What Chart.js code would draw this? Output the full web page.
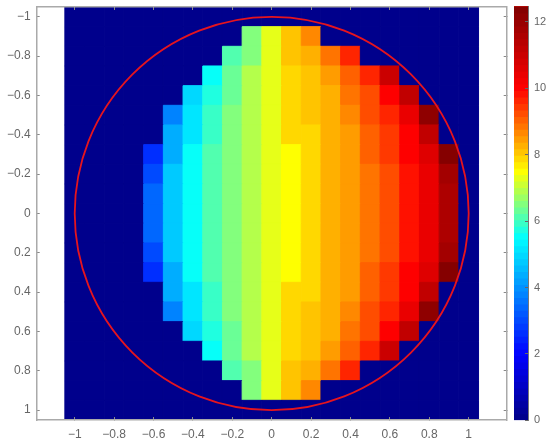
<!DOCTYPE html>
<html>
<head>
<meta charset="utf-8">
<title>Heatmap</title>
<script src="https://cdn.jsdelivr.net/npm/chart.js@4"></script>
<style>
  body { margin: 0; background: #fff; }
  canvas { position: absolute; top: 0; }
</style>
</head>
<body>
<canvas id="mapChart" width="508" height="444" style="left:0"></canvas>
<canvas id="barChart" width="44" height="444" style="left:506px"></canvas>
<script>
const xCells = [-1, -0.9, -0.8, -0.7, -0.6, -0.5, -0.4, -0.3, -0.2, -0.1, 0, 0.1, 0.2, 0.3, 0.4, 0.5, 0.6, 0.7, 0.8, 0.9, 1];
const yCells = [-1, -0.9, -0.8, -0.7, -0.6, -0.5, -0.4, -0.3, -0.2, -0.1, 0, 0.1, 0.2, 0.3, 0.4, 0.5, 0.6, 0.7, 0.8, 0.9, 1];

// one row per yCells entry, one value per xCells entry
const cellValues = [
  [0,0,0,0,0,0,0,0,0,0,0,0,0,0,0,0,0,0,0,0,0],
  [0,0,0,0,0,0,0,0,0,6.5,7.3,8.09,8.63,0,0,0,0,0,0,0,0],
  [0,0,0,0,0,0,0,0,6.05,6.59,7.3,7.99,8.33,8.87,9.56,0,0,0,0,0,0],
  [0,0,0,0,0,0,0,5.5,6.28,6.9,7.3,7.8,8.09,8.53,9.02,9.66,10.97,0,0,0,0],
  [0,0,0,0,0,0,4.95,5.73,6.36,6.9,7.3,7.8,8.09,8.33,8.77,9.31,10,11.26,0,0,0],
  [0,0,0,0,0,3.8,5.1,5.9,6.5,6.9,7.3,7.8,8.09,8.19,8.58,9.17,9.61,10.39,12.13,0,0],
  [0,0,0,0,0,4.3,5.2,5.9,6.5,6.9,7.3,7.8,7.94,8.19,8.53,8.97,9.36,10,11.16,0,0],
  [0,0,0,0,2.7,4.4,5.5,6.13,6.5,6.9,7.3,7.5,7.94,8.19,8.53,8.97,9.36,10,10.68,12.46,0],
  [0,0,0,0,3.1,4.75,5.5,6.13,6.5,6.9,7.3,7.5,7.94,8.19,8.38,8.77,9.22,9.75,10.48,11.84,0],
  [0,0,0,0,3.4,4.8,5.5,6.13,6.5,6.9,7.3,7.5,7.94,8.19,8.38,8.77,9.22,9.75,10.48,11.65,0],
  [0,0,0,0,3.4,4.8,5.5,6.13,6.5,6.9,7.3,7.5,7.94,8.19,8.38,8.77,9.22,9.75,10.48,11.55,0],
  [0,0,0,0,3.4,4.8,5.5,6.13,6.5,6.9,7.3,7.5,7.94,8.19,8.38,8.77,9.22,9.75,10.48,11.65,0],
  [0,0,0,0,3.1,4.75,5.5,6.13,6.5,6.9,7.3,7.5,7.94,8.19,8.38,8.77,9.22,9.75,10.48,11.84,0],
  [0,0,0,0,2.7,4.4,5.5,6.13,6.5,6.9,7.3,7.5,7.94,8.19,8.53,8.97,9.36,10,10.68,12.46,0],
  [0,0,0,0,0,4.3,5.2,5.9,6.5,6.9,7.3,7.8,7.94,8.19,8.53,8.97,9.36,10,11.16,0,0],
  [0,0,0,0,0,3.8,5.1,5.9,6.5,6.9,7.3,7.8,8.09,8.19,8.58,9.17,9.61,10.39,12.13,0,0],
  [0,0,0,0,0,0,4.95,5.73,6.36,6.9,7.3,7.8,8.09,8.33,8.77,9.31,10,11.26,0,0,0],
  [0,0,0,0,0,0,0,5.5,6.28,6.9,7.3,7.8,8.09,8.53,9.02,9.66,10.97,0,0,0,0],
  [0,0,0,0,0,0,0,0,6.05,6.59,7.3,7.99,8.33,8.87,9.56,0,0,0,0,0,0],
  [0,0,0,0,0,0,0,0,0,6.5,7.3,8.09,8.63,0,0,0,0,0,0,0,0],
  [0,0,0,0,0,0,0,0,0,0,0,0,0,0,0,0,0,0,0,0,0]
];

const xTicks = [-1, -0.8, -0.6, -0.4, -0.2, 0, 0.2, 0.4, 0.6, 0.8, 1];
const yTicks = [-1, -0.8, -0.6, -0.4, -0.2, 0, 0.2, 0.4, 0.6, 0.8, 1];
const barTicks = [0, 2, 4, 6, 8, 10, 12];
const circleRadius = 1;

// the colour ramp as it reads off the colour bar
const rampValues = [0, 2, 5.5, 6.5, 7.5, 10, 12.46];
const rampColors = [[0, 0, 134], [0, 0, 255], [0, 255, 255], [128, 255, 128], [255, 255, 0], [255, 0, 0], [128, 0, 0]];
const rampLevels = 64;
const valueMax = 12.46;

const textColor = '#666';
const frameColor = '#aaa';
const tickFont = { family: '"Liberation Sans", Arial, sans-serif', size: 12 };
const barFont = { family: '"Liberation Sans", Arial, sans-serif', size: 11 };

function rampColor(v) {
  let i = 0;
  while (i < rampValues.length - 2 && v > rampValues[i + 1]) i++;
  const f = Math.min(1, (v - rampValues[i]) / (rampValues[i + 1] - rampValues[i]));
  const c = rampColors[i].map((a, k) => Math.round(a + (rampColors[i + 1][k] - a) * f));
  return `rgb(${c[0]},${c[1]},${c[2]})`;
}

function levelColor(v) {
  const step = valueMax / rampLevels;
  const level = Math.min(rampLevels - 1, Math.floor(v / step));
  return rampColor((level + 0.5) * step);
}

const fmtTick = v => String(Number(v.toFixed(1))).replace('-', '\u2212');
const setTicks = list => scale => { scale.ticks = list.map(value => ({ value })); };

const cells = [];
yCells.forEach((y, r) => {
  xCells.forEach((x, c) => cells.push({ x: x, y: y, v: cellValues[r][c] }));
});

const circlePlugin = {
  id: 'circle',
  afterDatasetsDraw(chart) {
    const { ctx, scales } = chart;
    const cx = scales.x.getPixelForValue(0);
    const cy = scales.y.getPixelForValue(0);
    const rx = scales.x.getPixelForValue(circleRadius) - cx;
    const ry = scales.y.getPixelForValue(circleRadius) - cy;
    ctx.save();
    ctx.strokeStyle = '#e6141e';
    ctx.lineWidth = 1.8;
    ctx.beginPath();
    ctx.ellipse(cx, cy, rx, ry, 0, 0, Math.PI * 2);
    ctx.stroke();
    ctx.restore();
  }
};

const frameBorder = { color: frameColor, width: 1.5, z: 2 };
const frameGrid = { drawOnChartArea: false, tickLength: -3, color: '#888', z: 1 };

function sideAxis(position, list, min, max, reverse) {
  return {
    type: 'linear',
    position: position,
    min: min,
    max: max,
    reverse: reverse,
    afterBuildTicks: setTicks(list),
    afterFit: scale => {
      if (scale.isHorizontal()) scale.height = 0; else scale.width = 0;
      scale.paddingTop = scale.paddingBottom = scale.paddingLeft = scale.paddingRight = 0;
    },
    ticks: { display: false },
    border: frameBorder,
    grid: frameGrid
  };
}

new Chart(document.getElementById('mapChart').getContext('2d'), {
  type: 'scatter',
  data: {
    datasets: [{
      data: cells,
      pointStyle: 'rect',
      backgroundColor: c => levelColor(c.raw.v),
      // a stroke in the fill colour closes the seams between neighbouring cells
      borderColor: c => levelColor(c.raw.v),
      borderWidth: 1,
      pointRadius: c => {
        const s = c.chart.scales.x;
        return Math.abs(s.getPixelForValue(0.1) - s.getPixelForValue(0)) / Math.SQRT2;
      },
      pointHoverRadius: 0
    }]
  },
  plugins: [circlePlugin],
  options: {
    responsive: false,
    animation: false,
    layout: { padding: { right: 1.3 } },
    plugins: { legend: { display: false }, tooltip: { enabled: false } },
    scales: {
      x: {
        type: 'linear',
        position: 'bottom',
        min: -1.193,
        max: 1.193,
        afterBuildTicks: setTicks(xTicks),
        afterFit: scale => {
          scale.height = 24;
          scale.paddingLeft = scale.paddingRight = 0;
        },
        ticks: { color: textColor, font: tickFont, padding: 10, maxRotation: 0, autoSkip: false, callback: fmtTick },
        border: frameBorder,
        grid: frameGrid
      },
      y: {
        type: 'linear',
        position: 'left',
        reverse: true,
        min: -1.05,
        max: 1.05,
        afterBuildTicks: setTicks(yTicks),
        afterFit: scale => {
          scale.width = 36.7;
          scale.paddingTop = 7;
          scale.paddingBottom = 0;
        },
        ticks: { color: textColor, font: tickFont, padding: 9, autoSkip: false, callback: fmtTick },
        border: frameBorder,
        grid: frameGrid
      },
      xTop: sideAxis('top', xTicks, -1.193, 1.193, false),
      yRight: sideAxis('right', yTicks, -1.05, 1.05, true)
    }
  }
});

// colour bar: each level runs up to the top, the next one paints over it
const levelSets = [];
for (let i = 0; i < rampLevels; i++) {
  const lo = i * valueMax / rampLevels;
  levelSets.push({ data: [[lo, valueMax]], backgroundColor: levelColor(lo + 0.001), order: rampLevels - i });
}

new Chart(document.getElementById('barChart').getContext('2d'), {
  type: 'bar',
  data: { labels: [''], datasets: levelSets },
  options: {
    responsive: false,
    animation: false,
    layout: { padding: { left: 8, bottom: 23.6 } },
    datasets: { bar: { grouped: false, categoryPercentage: 1, barPercentage: 1 } },
    plugins: { legend: { display: false }, tooltip: { enabled: false } },
    scales: {
      x: { display: false },
      y: {
        position: 'right',
        min: 0,
        max: valueMax,
        afterBuildTicks: setTicks(barTicks),
        afterFit: scale => {
          scale.width = 22;
          scale.paddingTop = 6.7;
          scale.paddingBottom = 0;
        },
        ticks: { color: textColor, font: barFont, padding: 9, autoSkip: false },
        border: { color: '#777', width: 1, z: 2 },
        grid: { drawOnChartArea: false, tickLength: -3, color: '#666', z: 1 }
      }
    }
  }
});
</script>
</body>
</html>
